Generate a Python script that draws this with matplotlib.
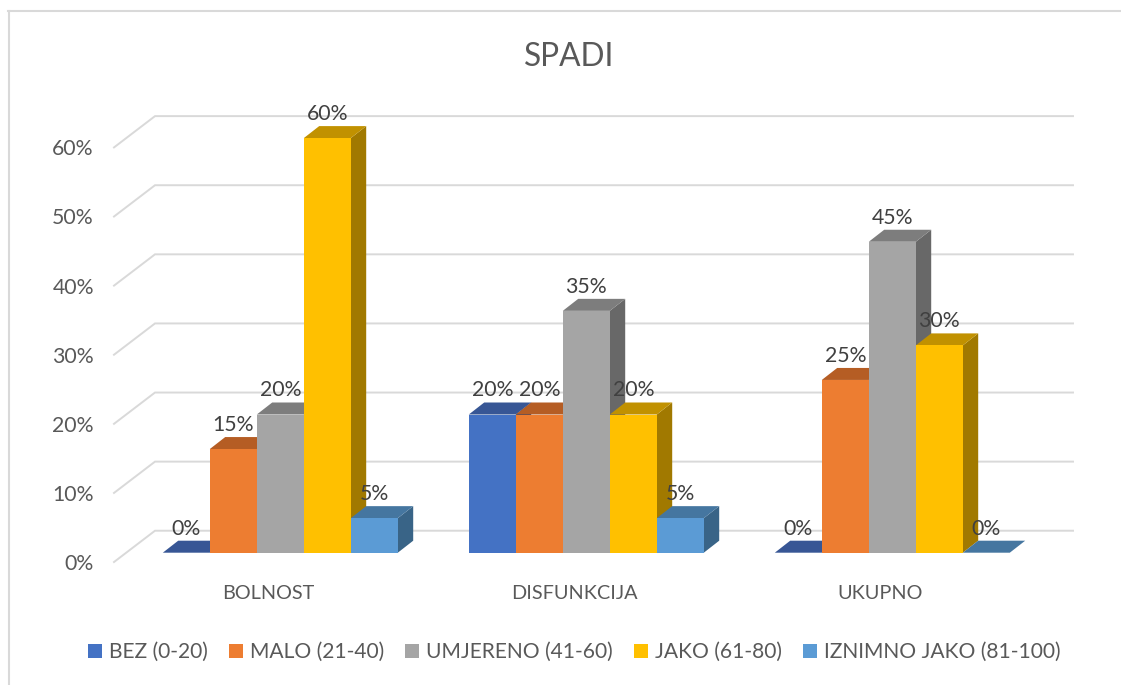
import matplotlib
matplotlib.use("Agg")
import matplotlib.pyplot as plt
from matplotlib.patches import Polygon, Patch
from matplotlib.transforms import ScaledTranslation
from matplotlib.lines import Line2D

plt.rcParams['font.family'] = ['Lato', 'DejaVu Sans']

title = "SPADI"
categories = ["BOLNOST", "DISFUNKCIJA", "UKUPNO"]
series_names = ["BEZ (0-20)", "MALO (21-40)", "UMJERENO (41-60)", "JAKO (61-80)", "IZNIMNO JAKO (81-100)"]
bez = [0, 20, 0]
malo = [15, 20, 25]
umjereno = [20, 35, 45]
jako = [60, 20, 30]
iznimno = [5, 5, 0]
all_series = [bez, malo, umjereno, jako, iznimno]
y_ticks = [0, 10, 20, 30, 40, 50, 60]

front = ["#4472C4", "#ED7D31", "#A5A5A5", "#FFC000", "#5B9BD5"]
top = ["#375695", "#B55D24", "#7D7D7D", "#C19100", "#4576A0"]
side = ["#2C4578", "#974C1C", "#686868", "#A17900", "#396487"]

W, H = 1121, 685
fig = plt.figure(figsize=(W / 100, H / 100), dpi=100, facecolor="white")

# pixel layout of the plot area
left, right, bottom_py, top_py = 114, 1073, 552.7, 100
ax = fig.add_axes([left / W, 1 - bottom_py / H, (right - left) / W, (bottom_py - top_py) / H])
ax.patch.set_alpha(0)
for s in ax.spines.values():
    s.set_visible(False)

px_x = 306.0       # pixels per category
px_y = 6.91        # pixels per percent
first_center = 280.3
ax.set_xlim((left - first_center) / px_x, (right - first_center) / px_x)
ax.set_ylim(0, (bottom_py - top_py) / px_y)

bar_w = 47.0 / px_x
dx, dy = 15.4 / px_x, 12.0 / px_y      # depth of a bar
gx0 = (155 - first_center) / px_x      # back wall
gx_front = (114 - first_center) / px_x
gx1 = (1073 - first_center) / px_x
g_back, g_front = 3.18, -1.35

grid_c = "#D9D9D9"
for v in y_ticks:
    ax.plot([gx_front, gx0, gx1], [v + g_front, v + g_back, v + g_back],
            color=grid_c, lw=1.4, zorder=1, clip_on=False, solid_joinstyle="miter")

z = 2
for c in range(len(categories)):
    for i, vals in enumerate(all_series):
        v = vals[c]
        xc = c + (i - 2) * bar_w
        x0, x1 = xc - bar_w / 2, xc + bar_w / 2
        if v > 0:
            ax.add_patch(Polygon([(x1, 0), (x1 + dx, dy), (x1 + dx, v + dy), (x1, v)],
                                 closed=True, fc=side[i], ec="none", zorder=z))
        ax.add_patch(Polygon([(x0, v), (x1, v), (x1 + dx, v + dy), (x0 + dx, v + dy)],
                             closed=True, fc=top[i], ec="none", zorder=z))
        ax.bar(xc, v, width=bar_w, color=front[i], edgecolor="none", zorder=z + 0.5)
        z += 1

for c in range(len(categories)):
    for i, vals in enumerate(all_series):
        xc = c + (i - 2) * bar_w
        ax.annotate(f"{vals[c]}%", (xc, vals[c]), xytext=(0, 17.4), textcoords="offset points",
                    ha="center", va="center", fontsize=15.3, color="#404040", zorder=500)

ax.tick_params(axis="both", length=0, labelsize=15.3, labelcolor="#595959")
ax.tick_params(axis="y", pad=14.5)
ax.tick_params(axis="x", pad=23, labelsize=14.3)
ax.set_yticks(y_ticks, labels=[f"{v}%" for v in y_ticks])
ax.set_xticks(range(len(categories)), labels=categories)
for lab in ax.get_yticklabels():
    lab.set_transform(lab.get_transform() + ScaledTranslation(0, -9.3 / 100, fig.dpi_scale_trans))
for lab in ax.get_xticklabels():
    lab.set_transform(lab.get_transform() + ScaledTranslation(-12 / 100, 0, fig.dpi_scale_trans))

fig.text(569.5 / W, 1 - 57.5 / H, title, ha="center", va="center", fontsize=22.8, color="#595959")

handles = [Patch(fc=f, ec="none", label=n) for f, n in zip(front, series_names)]
fig.legend(handles=handles, ncol=5, loc="center", bbox_to_anchor=(574.5 / W, 1 - 652 / H),
           frameon=False, fontsize=15.1, labelcolor="#595959", handlelength=0.67, handleheight=0.67,
           handletextpad=0.33, columnspacing=1.0, borderpad=0, borderaxespad=0)

# chart frame visible along the top and left edges
fig.add_artist(Line2D([9 / W, 9 / W], [0, 1 - 11 / H], color=grid_c, lw=1.5, transform=fig.transFigure))
fig.add_artist(Line2D([8 / W, 1], [1 - 11 / H, 1 - 11 / H], color=grid_c, lw=1.5, transform=fig.transFigure))

fig.savefig("out.png", dpi=100)
